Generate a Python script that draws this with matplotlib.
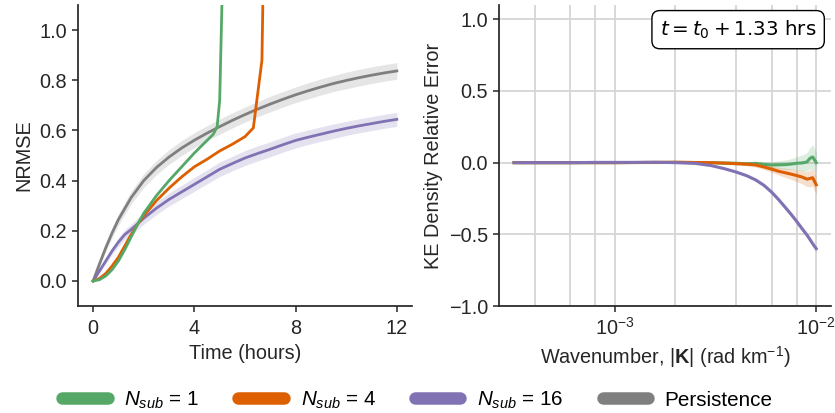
import matplotlib
matplotlib.use("Agg")
import matplotlib.pyplot as plt
import numpy as np
from matplotlib.ticker import LogLocator, NullFormatter, FixedLocator

plt.rcParams['font.family'] = ['Liberation Sans', 'DejaVu Sans']
plt.rcParams['mathtext.fontset'] = 'custom'
plt.rcParams['mathtext.rm'] = 'Liberation Sans'
plt.rcParams['mathtext.it'] = 'Liberation Sans:italic'
plt.rcParams['mathtext.bf'] = 'Liberation Sans:bold'

FS = 14.3
C_GREEN = '#55a868'
C_ORANGE = '#dd5f00'
C_PURPLE = '#8172b3'
C_GRAY = '#7f7f7f'
DARK = '#262626'

# ---------------- left panel data (NRMSE vs time) ----------------
gray_t = [0, 0.25, 0.5, 0.75, 1.0, 1.5, 2, 2.5, 3, 3.5, 4, 4.5, 5, 5.5, 6, 6.5, 7,
          7.5, 8, 8.5, 9, 9.5, 10, 10.5, 11, 11.5, 12]
gray_v = [0, 0.068, 0.133, 0.192, 0.245, 0.332, 0.400, 0.452, 0.494, 0.530, 0.561, 0.589,
          0.615, 0.640, 0.663, 0.685, 0.705, 0.724, 0.742, 0.758, 0.773, 0.787, 0.799,
          0.810, 0.820, 0.829, 0.837]
gray_err = [0, 0.01, 0.015, 0.02, 0.022, 0.025, 0.027, 0.028, 0.029, 0.03, 0.03, 0.03,
            0.03, 0.03, 0.03, 0.03, 0.031, 0.031, 0.031, 0.032, 0.032, 0.032, 0.033,
            0.033, 0.033, 0.033, 0.033]

purple_t = [0, 0.25, 0.5, 0.75, 1.0, 1.25, 1.5, 2, 2.5, 3, 3.5, 4, 4.5, 5, 5.5, 6,
            6.5, 7, 7.5, 8, 8.5, 9, 9.5, 10, 10.5, 11, 11.5, 12]
purple_v = [0, 0.04, 0.08, 0.12, 0.155, 0.185, 0.205, 0.25, 0.29, 0.325, 0.355, 0.385,
            0.415, 0.445, 0.468, 0.49, 0.508, 0.525, 0.543, 0.56, 0.573, 0.585, 0.597,
            0.608, 0.618, 0.627, 0.636, 0.644]
purple_err = [0, 0.008, 0.012, 0.015, 0.018, 0.02, 0.022, 0.024, 0.025, 0.026, 0.027,
              0.028, 0.028, 0.029, 0.029, 0.03, 0.03, 0.03, 0.03, 0.03, 0.029, 0.029,
              0.029, 0.028, 0.028, 0.028, 0.028, 0.028]

green_t = [0, 0.25, 0.5, 0.75, 1, 1.25, 1.5, 1.75, 2, 2.5, 3, 3.5, 4, 4.25, 4.5, 4.75,
           4.9, 5.0, 5.1]
green_v = [0, 0.005, 0.02, 0.045, 0.08, 0.125, 0.175, 0.225, 0.27, 0.34, 0.40, 0.455,
           0.51, 0.535, 0.56, 0.585, 0.615, 0.72, 1.15]

orange_t = [0, 0.25, 0.5, 0.75, 1, 1.25, 1.5, 1.75, 2, 2.5, 3, 3.5, 4, 4.5, 5, 5.5, 6,
            6.33, 6.67, 6.72]
orange_v = [0, 0.01, 0.03, 0.06, 0.095, 0.14, 0.185, 0.225, 0.26, 0.32, 0.37, 0.415,
            0.455, 0.485, 0.518, 0.545, 0.575, 0.61, 0.88, 1.2]

# ---------------- right panel data (KE density relative error) ----------------
k = [3.16e-4, 4.0e-4, 5.0e-4, 6.3e-4, 8.0e-4, 1.0e-3, 1.26e-3, 1.58e-3, 2.0e-3,
     2.5e-3, 3.0e-3, 3.5e-3, 4.0e-3, 4.5e-3, 5.0e-3, 5.5e-3, 6.0e-3, 6.5e-3, 7.0e-3,
     7.5e-3, 8.0e-3, 8.5e-3, 9.0e-3, 9.3e-3, 9.6e-3, 1.0e-2]
ke_purple = [0, 0, 0, 0, 0.002, 0.002, 0.002, 0.003, 0.0, -0.005, -0.02, -0.042,
             -0.065, -0.09, -0.12, -0.158, -0.205, -0.257, -0.31, -0.36, -0.41, -0.46,
             -0.505, -0.535, -0.565, -0.60]
ke_purple_err = [0.002, 0.002, 0.002, 0.002, 0.002, 0.002, 0.003, 0.003, 0.004, 0.005,
                 0.006, 0.008, 0.01, 0.011, 0.012, 0.013, 0.015, 0.016, 0.017, 0.018,
                 0.019, 0.02, 0.02, 0.02, 0.02, 0.02]
ke_orange = [0, 0, 0, 0, 0, 0, 0.001, 0.002, 0.003, 0.001, 0.0, -0.003, -0.007, -0.01,
             -0.016, -0.03, -0.045, -0.06, -0.07, -0.08, -0.09, -0.10, -0.115, -0.11,
             -0.105, -0.155]
ke_orange_err = [0.002, 0.002, 0.002, 0.002, 0.002, 0.002, 0.003, 0.003, 0.004, 0.005,
                 0.006, 0.008, 0.01, 0.012, 0.015, 0.018, 0.022, 0.027, 0.032, 0.037,
                 0.042, 0.047, 0.052, 0.057, 0.062, 0.068]
ke_green = [0, 0, 0, 0, 0, 0, 0.001, 0.001, 0.002, 0.001, 0.0, -0.003, -0.004, -0.008,
            -0.005, -0.012, -0.016, -0.015, -0.014, -0.01, -0.004, -0.002, 0.005,
            0.03, 0.04, 0.0]
ke_green_err = [0.002, 0.002, 0.002, 0.002, 0.002, 0.002, 0.003, 0.003, 0.004, 0.005,
                0.006, 0.008, 0.01, 0.012, 0.015, 0.018, 0.022, 0.027, 0.032, 0.038,
                0.044, 0.055, 0.065, 0.075, 0.085, 0.075]

labels = [r'$N_{sub}$ = 1', r'$N_{sub}$ = 4', r'$N_{sub}$ = 16', 'Persistence']
colors = [C_GREEN, C_ORANGE, C_PURPLE, C_GRAY]

fig = plt.figure(figsize=(8.35, 4.13), dpi=100)
ax1 = fig.add_axes([0.0934, 0.259, 0.400, 0.729])
ax2 = fig.add_axes([0.5976, 0.259, 0.398, 0.729])

# left panel
gt, gv, ge = np.array(gray_t), np.array(gray_v), np.array(gray_err)
pt, pv, pe = np.array(purple_t), np.array(purple_v), np.array(purple_err)
ax1.fill_between(gt, gv - ge, gv + ge, color=C_GRAY, alpha=0.2, lw=0)
ax1.fill_between(pt, pv - pe, pv + pe, color=C_PURPLE, alpha=0.2, lw=0)
ax1.plot(gt, gv, color=C_GRAY, lw=2)
ax1.plot(pt, pv, color=C_PURPLE, lw=2)
ax1.plot(orange_t, orange_v, color=C_ORANGE, lw=2)
ax1.plot(green_t, green_v, color=C_GREEN, lw=2)
ax1.set_xlim(-0.6, 12.6)
ax1.set_ylim(-0.1, 1.1)
ax1.set_xticks([0, 4, 8, 12])
ax1.set_yticks([0.0, 0.2, 0.4, 0.6, 0.8, 1.0])
ax1.set_xlabel('Time (hours)', fontsize=FS, color=DARK, labelpad=4)
ax1.set_ylabel('NRMSE', fontsize=FS, color=DARK, labelpad=4)

# right panel
kk = np.array(k)
for vals, errs, c in [(ke_green, ke_green_err, C_GREEN),
                      (ke_orange, ke_orange_err, C_ORANGE),
                      (ke_purple, ke_purple_err, C_PURPLE)]:
    v, e = np.array(vals), np.array(errs)
    ax2.fill_between(kk, v - e, v + e, color=c, alpha=0.2, lw=0)
for vals, c in [(ke_green, C_GREEN), (ke_orange, C_ORANGE), (ke_purple, C_PURPLE)]:
    ax2.plot(kk, vals, color=c, lw=2.2)
ax2.set_xscale('log')
ax2.set_ylim(-1.0, 1.1)
ax2.set_yticks([-1.0, -0.5, 0.0, 0.5, 1.0])
ax2.xaxis.set_major_locator(FixedLocator([1e-3, 1e-2]))
ax2.xaxis.set_minor_locator(LogLocator(base=10, subs=[2, 4, 6, 8]))
ax2.xaxis.set_minor_formatter(NullFormatter())
ax2.grid(True, which='both', axis='x', color='#d6d6d6', lw=1.3, zorder=0)
ax2.grid(True, which='major', axis='y', color='#d6d6d6', lw=1.3, zorder=0)
ax2.set_axisbelow(True)
ax2.tick_params(axis='x', which='minor', length=0)
ax2.set_xlabel(r'Wavenumber, $|\mathbf{K}|$ (rad km$^{-1}$)', fontsize=FS, color=DARK,
               labelpad=4)
ax2.set_ylabel('KE Density Relative Error', fontsize=FS, color=DARK, labelpad=4)
ax2.text(0.955, 0.955, r'$t = t_0 + 1.33$ hrs', transform=ax2.transAxes, ha='right',
         va='top', fontsize=FS, family='DejaVu Sans', math_fontfamily='dejavusans',
         color='black',
         bbox=dict(boxstyle='round,pad=0.4', fc='white', ec='black', lw=1.0))

for ax in (ax1, ax2):
    for s in ('top', 'right'):
        ax.spines[s].set_visible(False)
    for s in ('left', 'bottom'):
        ax.spines[s].set_color(DARK)
        ax.spines[s].set_linewidth(1.25)
    ax.tick_params(axis='both', which='major', labelsize=FS, colors=DARK, length=4.5,
                   width=1.1, labelcolor=DARK)
ax1.tick_params(axis='x', pad=5)

handles = [plt.Line2D([], [], color=c, lw=9, solid_capstyle='round') for c in colors]
fig.legend(handles, labels, loc='center', bbox_to_anchor=(0.5, 0.031), ncol=4,
           frameon=False, fontsize=14.9, handlelength=2.2, handletextpad=0.8,
           columnspacing=1.9)

fig.savefig('out.png', dpi=100)
